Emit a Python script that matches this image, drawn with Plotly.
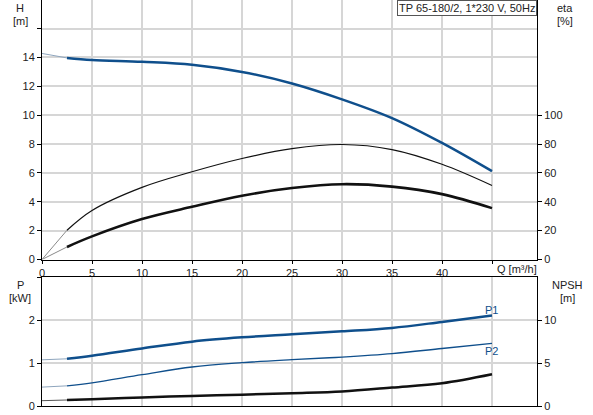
import plotly.graph_objects as go

# flow points (m3/h)
q = [0, 2.5, 5, 10, 15, 20, 25, 30, 35, 40, 45]

# head H [m]
head = [14.28, 13.97, 13.83, 13.7, 13.5, 13.0, 12.2, 11.1, 9.8, 8.08, 6.12]
# efficiencies [%]
eta_pump = [0, 20.3, 34, 50, 60.8, 70, 76.8, 79.7, 76.2, 66, 51.3]
eta_total = [0, 8.7, 16, 28, 36.5, 44.2, 49.5, 52.2, 50.5, 45.3, 35.6]
# power [kW]
p1 = [1.077, 1.10, 1.17, 1.34, 1.50, 1.60, 1.67, 1.74, 1.82, 1.96, 2.11]
p2 = [0.44, 0.47, 0.54, 0.73, 0.91, 1.01, 1.08, 1.14, 1.22, 1.34, 1.46]
# NPSH [m]
npsh = [0.62, 0.7, 0.8, 1.0, 1.17, 1.32, 1.5, 1.7, 2.15, 2.65, 3.7]

x_ticks = [0, 5, 10, 15, 20, 25, 30, 35, 40, 45]
x_labels = ["0", "5", "10", "15", "20", "25", "30", "35", "40", ""]

BLUE = "#0f4f8c"
LIGHT = "#8ea5bd"
GRID = "#d6d6d6"
TXT = "#222222"
FONT = "Liberation Sans, Arial, sans-serif"

W, H = 593, 415
def px_x(p):
    return p / W
def px_y(p):
    return 1 - p / H

fig = go.Figure()

def curve(x, y, xa, ya, color, width, light=None):
    # thin part below minimum flow, then the real curve
    fig.add_trace(go.Scatter(x=x[:2], y=y[:2], xaxis=xa, yaxis=ya, mode="lines",
                             line=dict(color=light or LIGHT, width=1), hoverinfo="skip"))
    fig.add_trace(go.Scatter(x=x[1:], y=y[1:], xaxis=xa, yaxis=ya, mode="lines",
                             line=dict(color=color, width=width, shape="spline", smoothing=1.0)))

curve(q, head, "x", "y", BLUE, 2.5)
curve(q, eta_pump, "x", "y2", "#111111", 1.2, light="#8a8a8a")
curve(q, eta_total, "x", "y2", "#111111", 2.6, light="#8a8a8a")
curve(q, p1, "x2", "y3", BLUE, 2.5)
curve(q, p2, "x2", "y3", BLUE, 1.4)
curve(q, npsh, "x2", "y4", "#111111", 2.5, light="#555555")

xdom = [px_x(42), px_x(537)]
axfont = dict(family=FONT, size=11, color=TXT)

common_x = dict(domain=xdom, range=[0, 49.5], tickvals=x_ticks, showgrid=True,
                gridcolor=GRID, gridwidth=1.5, showline=True, linecolor="#000000",
                linewidth=1, zeroline=False, tickfont=axfont, automargin=False)

fig.update_layout(
    width=W, height=H,
    margin=dict(l=0, r=0, t=0, b=0, autoexpand=False),
    paper_bgcolor="white", plot_bgcolor="white",
    showlegend=False,
    font=dict(family=FONT, size=11, color=TXT),
    xaxis=dict(common_x, anchor="y", ticktext=x_labels, ticks="outside", ticklen=3,
               tickcolor="#000000"),
    yaxis=dict(domain=[px_y(259.5), 1], range=[0, 259.5 / 14.43],
               tickvals=[0, 2, 4, 6, 8, 10, 12, 14, 16],
               ticktext=["0", "2", "4", "6", "8", "10", "12", "14", ""],
               showgrid=True, gridcolor=GRID, gridwidth=1.5, showline=True,
               linecolor="#000000", zeroline=False, ticks="outside",
               ticklen=4, tickcolor="#000000", tickfont=axfont, automargin=False),
    yaxis2=dict(overlaying="y", side="right", anchor="x", range=[0, 259.5 / 1.443],
                tickvals=[0, 20, 40, 60, 80, 100], showgrid=False, showline=True,
                linecolor="#000000", zeroline=False, ticks="outside", ticklen=4,
                tickcolor="#000000", tickfont=axfont, automargin=False),
    xaxis2=dict(common_x, anchor="y3", showticklabels=False, ticks="", mirror=True),
    yaxis3=dict(domain=[px_y(406), px_y(277.3)], range=[0, 3], tickvals=[0, 1, 2, 3],
                ticktext=["0", "1", "2", ""], showgrid=True, gridcolor=GRID,
                gridwidth=1.5, showline=True, linecolor="#000000",
                zeroline=False, ticks="outside", ticklen=4, tickcolor="#000000",
                tickfont=axfont, anchor="x2", automargin=False),
    yaxis4=dict(overlaying="y3", side="right", anchor="x2", range=[0, 15],
                tickvals=[0, 5, 10], showgrid=False, showline=True,
                linecolor="#000000", zeroline=False, ticks="outside", ticklen=4,
                tickcolor="#000000", tickfont=axfont, automargin=False),
)

def label(text, x, y, color=TXT, anchor="center"):
    fig.add_annotation(text=text, x=px_x(x), y=px_y(y), xref="paper", yref="paper",
                       xanchor=anchor, yanchor="middle", showarrow=False,
                       font=dict(family=FONT, size=11, color=color))

label("H", 20, 8)
label("[m]", 20, 21)
label("eta", 565, 8)
label("[%]", 565, 21)
label("P", 20, 285)
label("[kW]", 20, 298)
label("NPSH", 567, 285)
label("[m]", 567, 298)
label("Q [m³/h]", 495, 269, anchor="left")
label("P1", 491, 310, color=BLUE)
label("P2", 491, 351, color=BLUE)

fig.add_annotation(text="TP 65-180/2, 1*230 V, 50Hz", x=px_x(536.5), y=1,
                   xref="paper", yref="paper", xanchor="right", yanchor="top",
                   showarrow=False, bgcolor="white", bordercolor="#555555",
                   borderwidth=1, borderpad=1,
                   font=dict(family=FONT, size=11, color=TXT))

# page body has a default 8px margin; drop it so the chart sits at the corner
fig.write_html("out.html", config={"displayModeBar": False},
               post_script="document.body.style.margin='0';document.body.style.overflow='hidden';")
